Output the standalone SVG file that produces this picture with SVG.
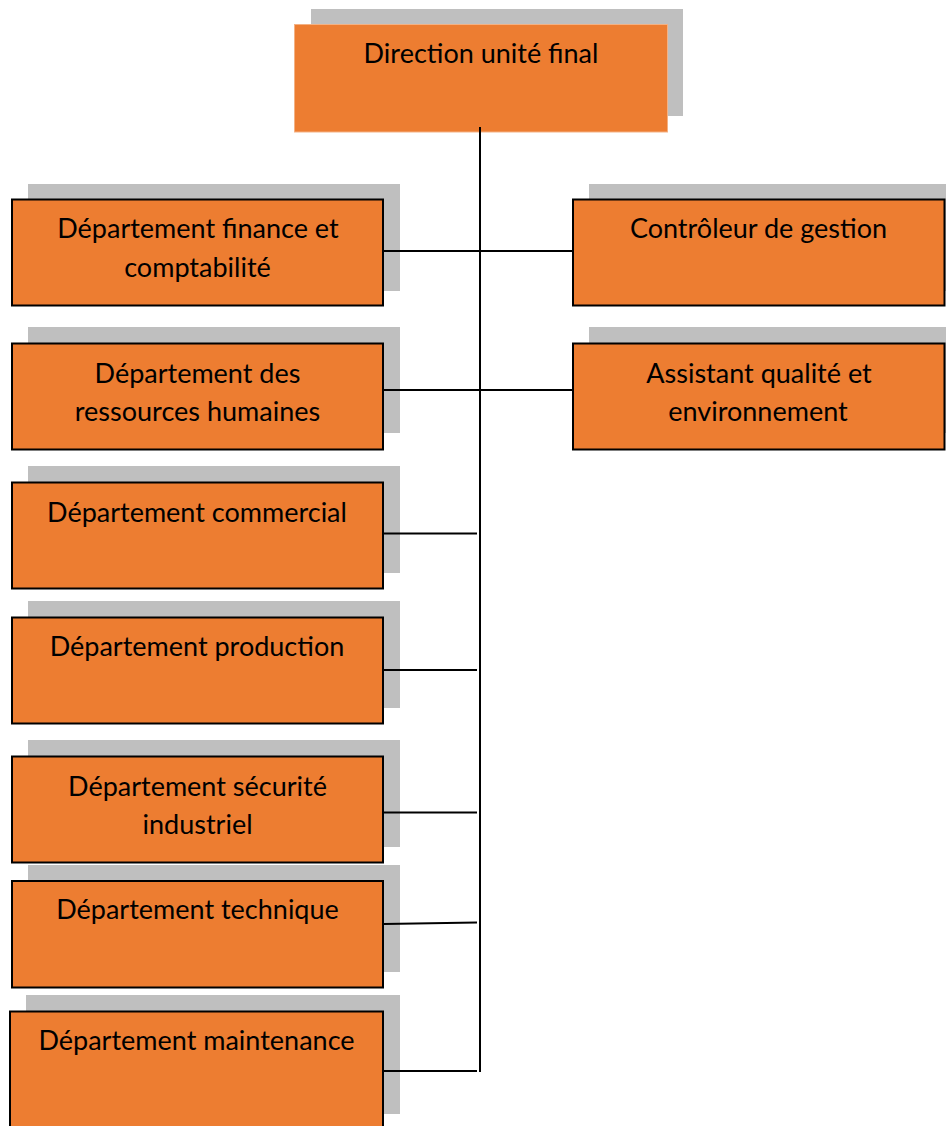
<svg xmlns="http://www.w3.org/2000/svg" width="946" height="1126" viewBox="0 0 946 1126">
  <style>
    .shadow { fill: #bfbfbf; }
    .box { fill: #ed7d31; stroke: #000; stroke-width: 2; }
    .top { fill: #ed7d31; stroke: #f4b183; stroke-width: 1; }
    .label { font-family: Lato, "Open Sans", sans-serif; font-size: 27px; fill: #000; text-anchor: middle; }
    .link { stroke: #000; stroke-width: 2; fill: none; }
  </style>
  <rect width="946" height="1126" fill="#fff"/>

  <!-- top of the hierarchy -->
  <g id="direction">
    <rect class="shadow" x="311" y="9" width="372" height="107"/>
    <rect class="top" x="294.5" y="24.5" width="373" height="107.5"/>
    <text class="label" x="481" y="63">Direction unité final</text>
  </g>

  <!-- left column -->
  <g id="finance">
    <rect class="shadow" x="28" y="184" width="372" height="107"/>
    <rect class="box" x="12" y="199.5" width="371" height="106"/>
    <text class="label" x="198" y="238">Département finance et</text>
    <text class="label" x="197.5" y="276.5">comptabilité</text>
  </g>

  <g id="rh">
    <rect class="shadow" x="28" y="327" width="372" height="106"/>
    <rect class="box" x="12" y="343.5" width="371" height="106"/>
    <text class="label" x="197.5" y="382.5">Département des</text>
    <text class="label" x="197.5" y="421">ressources humaines</text>
  </g>

  <g id="commercial">
    <rect class="shadow" x="28" y="466" width="372" height="107"/>
    <rect class="box" x="12" y="482.5" width="371" height="106"/>
    <text class="label" x="197" y="521.5">Département commercial</text>
  </g>

  <g id="production">
    <rect class="shadow" x="28" y="601" width="372" height="107"/>
    <rect class="box" x="12" y="617.5" width="371" height="106"/>
    <text class="label" x="197" y="656">Département production</text>
  </g>

  <g id="securite">
    <rect class="shadow" x="28" y="740" width="372" height="107"/>
    <rect class="box" x="12" y="756.5" width="371" height="106"/>
    <text class="label" x="197.5" y="796">Département sécurité</text>
    <text class="label" x="197.5" y="834">industriel</text>
  </g>

  <g id="technique">
    <rect class="shadow" x="28" y="865" width="372" height="107"/>
    <rect class="box" x="12" y="881" width="371" height="106.5"/>
    <text class="label" x="197.5" y="919">Département technique</text>
  </g>

  <g id="maintenance">
    <rect class="shadow" x="26" y="995" width="374" height="119"/>
    <rect class="box" x="10" y="1011.5" width="373" height="130"/>
    <text class="label" x="196.5" y="1050">Département maintenance</text>
  </g>

  <!-- right column -->
  <g id="controleur">
    <rect class="shadow" x="589" y="184" width="360" height="107"/>
    <rect class="box" x="573" y="199.5" width="371.5" height="106"/>
    <text class="label" x="758.5" y="238">Contrôleur de gestion</text>
  </g>

  <g id="qualite">
    <rect class="shadow" x="589" y="327" width="360" height="106"/>
    <rect class="box" x="573" y="343.5" width="371.5" height="106"/>
    <text class="label" x="759" y="382.5">Assistant qualité et</text>
    <text class="label" x="758" y="420.5">environnement</text>
  </g>

  <!-- connectors, drawn over the boxes and their shadows -->
  <g id="connectors">
    <line class="link" x1="480" y1="127" x2="480" y2="1072"/>
    <line class="link" x1="384" y1="251" x2="572" y2="251"/>
    <line class="link" x1="384" y1="390" x2="572" y2="390"/>
    <line class="link" x1="384" y1="533.5" x2="477" y2="533.5"/>
    <line class="link" x1="384" y1="670" x2="477" y2="670"/>
    <line class="link" x1="384" y1="812.5" x2="477" y2="812.5"/>
    <line class="link" x1="384" y1="924" x2="477" y2="922.5"/>
    <line class="link" x1="384" y1="1071" x2="477" y2="1071"/>
  </g>
</svg>
